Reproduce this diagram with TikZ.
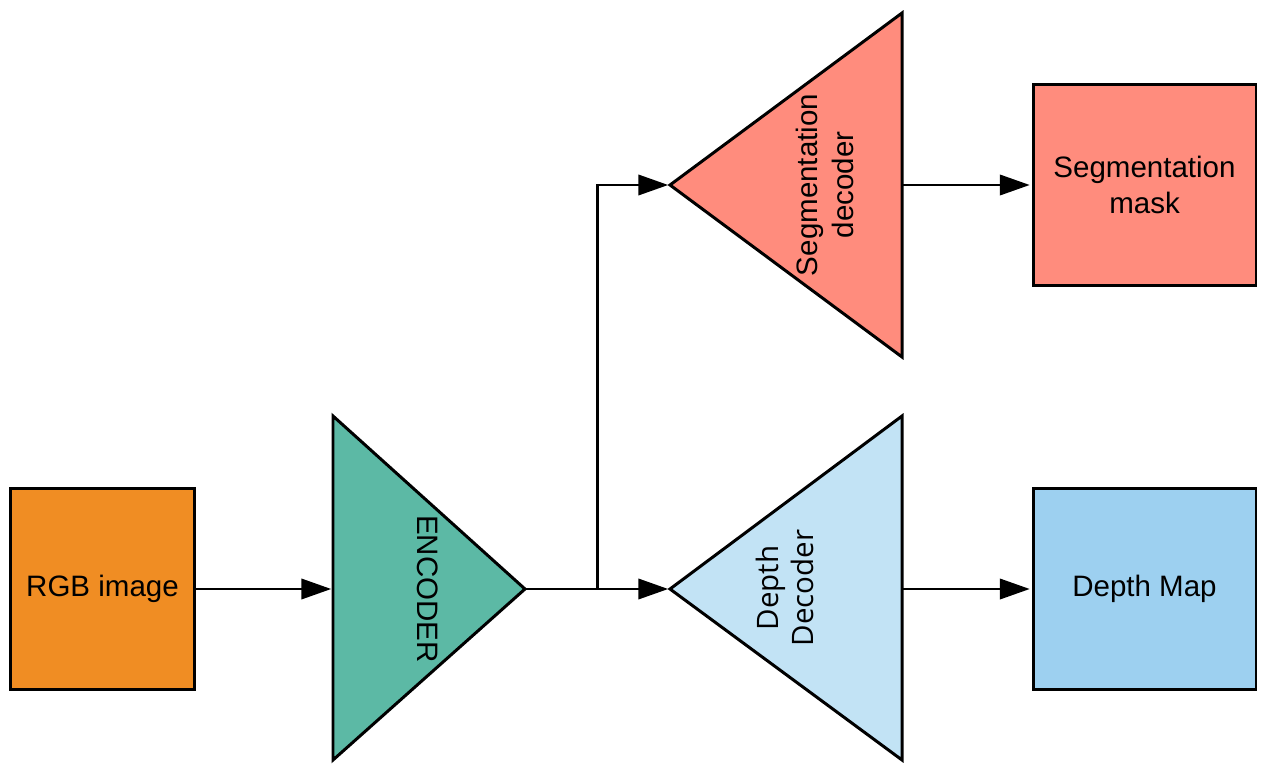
\documentclass[tikz,border=0pt]{standalone}
\usepackage{fontspec}
\setmainfont{Liberation Sans}
\newfontfamily\decfont{Open Sans}
\usetikzlibrary{arrows.meta,calc,positioning}

\definecolor{rgborange}{RGB}{240,141,35}
\definecolor{encgreen}{RGB}{92,185,165}
\definecolor{segred}{RGB}{255,140,125}
\definecolor{decblue}{RGB}{194,227,245}
\definecolor{mapblue}{RGB}{157,208,240}
\newcommand{\lbl}{\fontsize{16.8}{20}\selectfont}

\begin{document}
\begin{tikzpicture}[x=0.02cm, y=-0.02cm, ->,>={Triangle[length=17pt,width=11.5pt]},shorten >=1pt,
  line width=1.7pt, box/.style={rectangle,draw,minimum height=4.04cm,align=center,font=\lbl},
  tri/.style={draw,-,line join=miter}, txt/.style={align=center,font=\lbl}]

  \useasboundingbox (0,0) rectangle (1271,777);

  % boxes
  \node[box,fill=rgborange,minimum width=3.7cm] (rgb) at (102.5,589) {RGB image};
  \node[box,fill=segred,minimum width=4.46cm] (segmask) at (1144.5,185) {Segmentation\\mask};
  \node[box,fill=mapblue,minimum width=4.46cm] (depmap) at (1144.5,589) {Depth Map};

  % triangles
  \draw[tri,fill=encgreen] (333,416) -- (525,589) -- (333,760) -- cycle;
  \draw[tri,fill=segred] (902,13) -- (670,185) -- (902,357) -- cycle;
  \draw[tri,fill=decblue] (902,416) -- (670,589) -- (902,760) -- cycle;

  \coordinate (encin) at (333,589);
  \coordinate (encout) at (525,589);
  \coordinate (segin) at (670,185);
  \coordinate (segout) at (902,185);
  \coordinate (depin) at (670,589);
  \coordinate (depout) at (902,589);
  \coordinate (split) at (597,589);

  \node[txt,rotate=-90] (enc) at (428,589) {ENCODER};
  \node[txt,rotate=90] (segdec) at (825,185) {Segmentation\\decoder};
  \node[txt,rotate=90,font=\decfont\lbl] (depdec) at (785,588) {Depth\\Decoder};

  % connectors
  \draw (rgb) -- (encin);
  \draw (encout) -- (depin);
  \draw (split) |- (segin);
  \draw (segout) -- (segmask);
  \draw (depout) -- (depmap);
\end{tikzpicture}
\end{document}
